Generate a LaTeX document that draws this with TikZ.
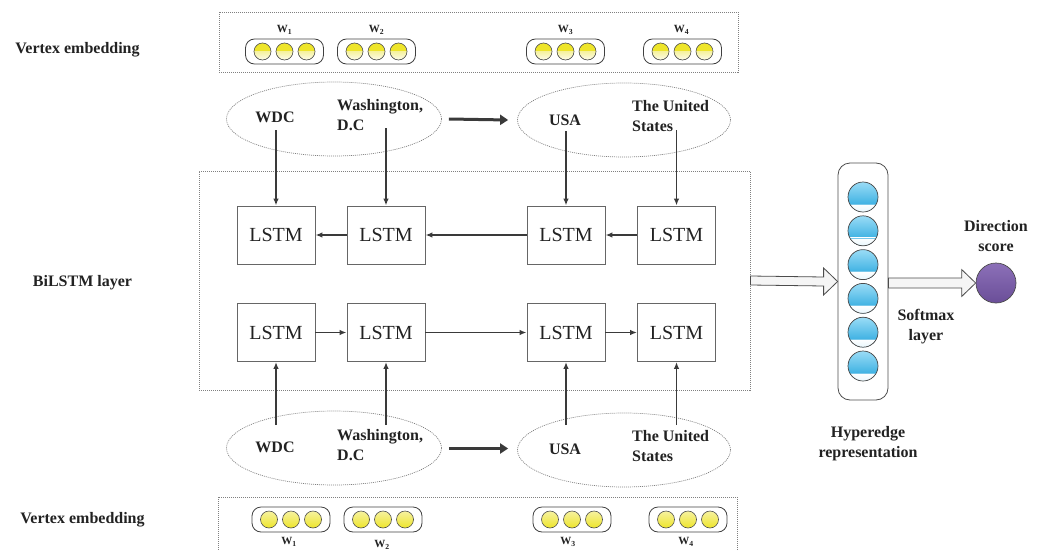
\documentclass[tikz,border=0pt]{standalone}
\usepackage{fontspec}
\setmainfont{Liberation Serif}
\usetikzlibrary{calc,arrows.meta,shapes.geometric}
\definecolor{txt}{HTML}{222222}
\definecolor{ln}{HTML}{3A3A3A}
\definecolor{yelA}{HTML}{EEE52A}
\definecolor{yelB}{HTML}{F6F2A0}
\definecolor{yelC}{HTML}{FDFCEB}
\definecolor{bluA}{HTML}{9ADCF6}
\definecolor{bluB}{HTML}{1FA3DC}
\definecolor{bluC}{HTML}{E8F7FD}
\definecolor{purA}{HTML}{8C70B8}
\definecolor{purB}{HTML}{6A4E98}
\begin{document}
\begin{tikzpicture}[x=1pt,y=-1pt,
  lbl/.style={font=\fontsize{16}{20}\selectfont\bfseries, text=txt, inner sep=0pt, align=center},
  lbll/.style={font=\fontsize{16}{20}\selectfont\bfseries, text=txt, inner sep=0pt, align=left, anchor=west},
  wlbl/.style={font=\fontsize{11}{12}\selectfont\bfseries, text=txt, inner sep=0pt},
  lstmbox/.style={draw=black!60, line width=0.9pt, minimum width=78pt, minimum height=58pt, inner sep=0pt, font=\fontsize{20}{24}\selectfont, text=txt},
  dotbox/.style={draw=black!50, dash pattern=on 1pt off 1pt, line width=0.8pt, inner sep=0pt},
  ell/.style={ellipse, draw=black!50, dash pattern=on 1pt off 1pt, line width=0.7pt, minimum width=215pt, minimum height=74pt, inner sep=0pt},
  pill/.style={draw=black!75, line width=0.8pt, rounded corners=9pt, minimum width=78pt, minimum height=25pt, inner sep=0pt},
  yball/.style={circle, draw=black!70, line width=0.6pt, minimum size=17pt, inner sep=0pt,
    path picture={
      \fill[yelA] (path picture bounding box.north west) rectangle (path picture bounding box.east);
      \fill[top color=yelB, bottom color=yelC] (path picture bounding box.west) rectangle (path picture bounding box.south east);
    }},
  yballb/.style={circle, draw=black!70, line width=0.6pt, minimum size=17pt, inner sep=0pt,
    top color=yelB, bottom color=yelA},
  bball/.style={circle, draw=black!70, line width=0.7pt, minimum size=30pt, inner sep=0pt,
    path picture={
      \fill[top color=bluA, bottom color=bluB] (path picture bounding box.north west) rectangle (path picture bounding box.south east);
      \fill[top color=white, bottom color=bluC] ($(path picture bounding box.south west)+(0pt,8pt)$) rectangle (path picture bounding box.south east);
      \draw[bluB!60!white, line width=0.4pt] ($(path picture bounding box.south west)+(0pt,8pt)$) -- ($(path picture bounding box.south east)+(0pt,8pt)$);
    }},
  flow/.style={draw=ln, line width=1.5pt, -{Latex[length=7pt,width=5.5pt]}},
  bigflow/.style={draw=ln, line width=3pt, -{Triangle[length=8pt,width=10pt]}},
  hollow/.style={fill=black!4, draw=black!70, line width=0.8pt, line join=miter}
]
\useasboundingbox (0,0) rectangle (1038,551);

% ---------- left labels
\node[lbl] (vet) at (77.5,50) {Vertex embedding};
\node[lbl] (bil) at (82.5,283) {BiLSTM layer};
\node[lbl] (veb) at (82.5,520) {Vertex embedding};

% ---------- top vertex embedding
\node[dotbox, minimum width=519pt, minimum height=60pt] (topbox) at (478.5,42) {};
\foreach \i/\x/\lx in {1/284.5/284.5, 2/376.5/376.5, 3/565.5/565.5, 4/682.5/681.5}{
  \node[pill] (tp\i) at (\x,51.5) {};
  \node[yball] (tp\i a) at ($(tp\i)+(-22,0)$) {};
  \node[yball] (tp\i b) at (tp\i) {};
  \node[yball] (tp\i c) at ($(tp\i)+(22,0)$) {};
  \node[wlbl] (tw\i) at (\lx,30) {W\textsubscript{\i}};
}

% ---------- top ellipses
\node[ell] (te1) at (334,119) {};
\node[ell, minimum width=213pt] (te2) at (624,120) {};
\node[lbl] (twdc) at (275,117) {WDC};
\node[lbll] (twas) at (337,115.5) {Washington,\\D.C};
\node[lbl] (tusa) at (565,120) {USA};
\node[lbll] (tus) at (632,116.5) {The United\\States};
\draw[bigflow] ($(te1.east)+(7,0)$) coordinate (tarS) -- ($(te2.west)+(-9,0)$) coordinate (tarE);

% ---------- BiLSTM box
\node[dotbox, minimum width=551pt, minimum height=219pt] (bbox) at (474.5,280.5) {};
\foreach \i/\x in {1/276, 2/386, 3/566, 4/676.5}{
  \node[lstmbox] (L\i) at (\x,235) {LSTM};
  \node[lstmbox] (R\i) at (\x,332.5) {LSTM};
}
\draw[flow] (L4.west) -- (L3.east);
\draw[flow] (L3.west) -- (L2.east);
\draw[flow] (L2.west) -- (L1.east);
\draw[flow] (R1.east) -- (R2.west);
\draw[flow] (R2.east) -- (R3.west);
\draw[flow] (R3.east) -- (R4.west);

% vertical connectors top
\foreach \i/\y in {1/130, 2/128, 3/131, 4/130}{
  \coordinate (ta\i) at (L\i.north |- 0,\y);
  \draw[flow] (ta\i) -- (L\i.north);
}

% ---------- bottom ellipses
\node[ell] (be1) at (334,448) {};
\node[ell, minimum width=213pt] (be2) at (624,450) {};
\node[lbl] (bwdc) at (275,447) {WDC};
\node[lbll] (bwas) at (337,445.5) {Washington,\\D.C};
\node[lbl] (busa) at (565,449) {USA};
\node[lbll] (bus) at (632,446.5) {The United\\States};
\draw[bigflow] ($(be1.east)+(7,0.5)$) coordinate (barS) -- ($(be2.west)+(-9,-1.5)$) coordinate (barE);

\foreach \i in {1,2,3,4}{
  \coordinate (ba\i) at (R\i.south |- 0,425);
  \draw[flow] (ba\i) -- (R\i.south);
}

% ---------- bottom vertex embedding
\node[dotbox, minimum width=519pt, minimum height=58pt] (botbox) at (477.5,526) {};
\foreach \i/\x/\lx/\ly in {1/291/289/542, 2/383/382/545, 3/572/568/542, 4/688/686/542}{
  \node[pill] (bp\i) at (\x,519.5) {};
  \node[yballb] (bp\i a) at ($(bp\i)+(-22,0)$) {};
  \node[yballb] (bp\i b) at (bp\i) {};
  \node[yballb] (bp\i c) at ($(bp\i)+(22,0)$) {};
  \node[wlbl] (bw\i) at (\lx,\ly) {W\textsubscript{\i}};
}

% ---------- hyperedge representation
\node[draw=black!70, line width=0.8pt, rounded corners=12pt, minimum width=50pt, minimum height=237pt, inner sep=0pt] (col) at (863,281.5) {};
\foreach \i in {0,...,5}{
  \node[bball] (c\i) at (863,{197+33.8*\i}) {};
}
\node[lbl] (hyp) at (868,444) {Hyperedge\\representation};

% hollow arrow BiLSTM -> column
\coordinate (h1s) at (bbox.east);
\coordinate (h1e) at (col.west);
\draw[hollow] ($(h1s)+(0,-4.5)$) -- ($(h1e)+(-14,-4.5)$) -- ($(h1e)+(-14,-13.5)$) -- (h1e)
  -- ($(h1e)+(-14,13.5)$) -- ($(h1e)+(-14,4.5)$) -- ($(h1s)+(0,4.5)$) -- cycle;

% ---------- direction score
\node[circle, draw=black!70, line width=0.7pt, minimum size=40pt, inner sep=0pt, top color=purA, bottom color=purB] (dir) at (996,283) {};
\node[lbl] (dirl) at (996,236) {Direction\\score};
\node[lbl] (soft) at (926,327) {Softmax\\layer};

\coordinate (h2s) at (col.east |- dir.west);
\coordinate (h2e) at (dir.west);
\draw[hollow] ($(h2s)+(0,-5)$) -- ($(h2e)+(-14,-5)$) -- ($(h2e)+(-14,-13.5)$) -- (h2e)
  -- ($(h2e)+(-14,13.5)$) -- ($(h2e)+(-14,5)$) -- ($(h2s)+(0,5)$) -- cycle;
\end{tikzpicture}
\end{document}
